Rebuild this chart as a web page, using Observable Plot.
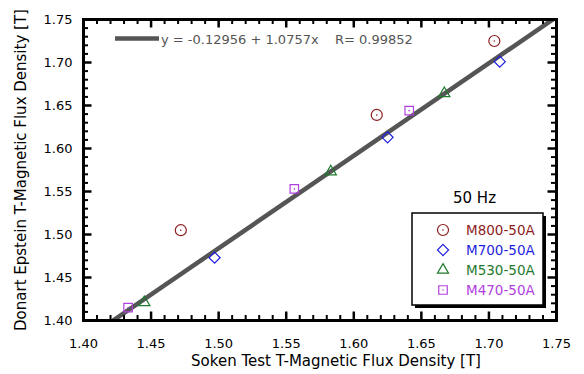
<!DOCTYPE html>
<html><head><meta charset="utf-8">
<script src="https://cdn.jsdelivr.net/npm/d3@7"></script>
<script src="https://cdn.jsdelivr.net/npm/@observablehq/plot@0.6"></script>
<style>body{margin:0;background:#fff}#chart{width:584px;height:374px}</style>
</head><body><div id="chart"></div>
<script>
// ---- data ----
const seriesNames = ["M800-50A", "M700-50A", "M530-50A", "M470-50A"];
const seriesColors = ["#8c1c1c", "#1f1fe0", "#1f7a2e", "#b040e0"];
const seriesSymbols = ["circle", "diamond2", "triangle2", "square2"];
const m800X = [1.472, 1.617, 1.704];
const m800Y = [1.505, 1.639, 1.725];
const m700X = [1.497, 1.625, 1.708];
const m700Y = [1.473, 1.613, 1.701];
const m530X = [1.445, 1.583, 1.667];
const m530Y = [1.421, 1.573, 1.664];
const m470X = [1.433, 1.556, 1.641];
const m470Y = [1.415, 1.553, 1.644];
const xTicks = [1.40, 1.45, 1.50, 1.55, 1.60, 1.65, 1.70, 1.75];
const yTicks = [1.40, 1.45, 1.50, 1.55, 1.60, 1.65, 1.70, 1.75];
const fitIntercept = -0.12956;
const fitSlope = 1.0757;
const fitR = 0.99852;
const freqLabel = "50 Hz";
const xTitle = "Soken Test T-Magnetic Flux Density [T]";
const yTitle = "Donart Epstein T-Magnetic Flux Density [T]";

// ---- build tables ----
const xs = [m800X, m700X, m530X, m470X];
const ys = [m800Y, m700Y, m530Y, m470Y];
const data = [];
seriesNames.forEach((s, i) => xs[i].forEach((x, j) => data.push({series: s, x, y: ys[i][j]})));
const fitLine = [xTicks[0], xTicks[xTicks.length - 1]].map(x => ({x, y: fitIntercept + fitSlope * x}));
const minorX = d3.range(0, 36).map(i => +(1.40 + i * 0.01).toFixed(2)).filter(v => !xTicks.includes(v));
const minorY = d3.range(0, 36).map(i => +(1.40 + i * 0.01).toFixed(2)).filter(v => !yTicks.includes(v));

const W = 584, H = 374, ML = 83, MR = 28, MT = 19, MB = 54;
const PW = W - ML - MR, PH = H - MT - MB;
const xLo = xTicks[0], xHi = xTicks[xTicks.length - 1];
const yLo = yTicks[0], yHi = yTicks[yTicks.length - 1];
const perPxX = (xHi - xLo) / PW, perPxY = (yHi - yLo) / PH;

// inward tick marks on all four sides (lengths converted from pixels through the scale span)
function ticks(vals, dim, len, sw) {
  if (dim === "x") {
    const l = len * perPxY;
    return [
      Plot.ruleX(vals, {x: d => d, y1: yLo, y2: yLo + l, stroke: "#000", strokeWidth: sw}),
      Plot.ruleX(vals, {x: d => d, y1: yHi - l, y2: yHi, stroke: "#000", strokeWidth: sw})
    ];
  }
  const l = len * perPxX;
  return [
    Plot.ruleY(vals, {y: d => d, x1: xLo, x2: xLo + l, stroke: "#000", strokeWidth: sw}),
    Plot.ruleY(vals, {y: d => d, x1: xHi - l, x2: xHi, stroke: "#000", strokeWidth: sw})
  ];
}

const sizes = {circle: 5.5, diamond2: 5, triangle2: 5.3, square2: 5.4};
const dotMarks = [];
seriesNames.forEach((s, i) => {
  const d = data.filter(r => r.series === s);
  dotMarks.push(Plot.dot(d, {x: "x", y: "y", symbol: seriesSymbols[i], r: sizes[seriesSymbols[i]],
    stroke: seriesColors[i], strokeWidth: 1.2, fill: "none"}));
  if (seriesSymbols[i] === "circle" || seriesSymbols[i] === "square2") {
    dotMarks.push(Plot.dot(d, {x: "x", y: "y", r: 0.8, fill: seriesColors[i], stroke: "none"}));
  }
});

const plot = Plot.plot({
  width: W, height: H,
  marginLeft: ML, marginRight: MR, marginTop: MT, marginBottom: MB,
  style: {fontFamily: "DejaVu Sans", fontSize: "13px"},
  x: {domain: [xLo, xHi], label: null},
  y: {domain: [yLo, yHi], label: null},
  marks: [
    Plot.line(fitLine, {x: "x", y: "y", stroke: "#555", strokeWidth: 4.5, clip: true}),
    ...dotMarks,
    Plot.frame({stroke: "black", strokeWidth: 3}),
    ...ticks(xTicks, "x", 8.5, 2.5),
    ...ticks(yTicks, "y", 8.5, 2.5),
    ...ticks(minorX, "x", 5, 2),
    ...ticks(minorY, "y", 5, 2),
    Plot.axisX({ticks: xTicks, tickSize: 0, tickPadding: 18, tickFormat: d3.format(".2f"), label: null, fontSize: 13}),
    Plot.axisY({ticks: yTicks, tickSize: 0, tickPadding: 11, tickFormat: d3.format(".2f"), label: null, fontSize: 13}),
    Plot.text([xTitle], {text: d => d, frameAnchor: "bottom", lineAnchor: "bottom", textAnchor: "middle", dy: 45, dx: 16, fontSize: 15}),
    Plot.text([yTitle], {text: d => d, frameAnchor: "left", lineAnchor: "middle", textAnchor: "middle", dx: -62, rotate: -90, fontSize: 15})
  ]
});
document.getElementById("chart").append(plot);

// ---- in-plot annotations: equation key and series legend ----
const svg = d3.select(plot);
const eq = svg.append("g").attr("font-family", "DejaVu Sans").attr("font-size", 13)
  .attr("fill", "#555").attr("text-anchor", "start");
eq.append("line").attr("x1", 115).attr("x2", 159).attr("y1", 38.5).attr("y2", 38.5)
  .attr("stroke", "#555").attr("stroke-width", 4.5);
eq.append("text").attr("x", 161).attr("y", 44).attr("text-anchor", "start")
  .text(`y = ${fitIntercept} + ${fitSlope}x`);
eq.append("text").attr("x", 335).attr("y", 44).attr("text-anchor", "start").text(`R= ${fitR}`);

const lg = svg.append("g").attr("font-family", "DejaVu Sans").attr("text-anchor", "start");
lg.append("text").attr("x", 453).attr("y", 203).attr("font-size", 15).attr("fill", "black")
  .attr("text-anchor", "start").text(freqLabel);
lg.append("rect").attr("x", 415).attr("y", 216).attr("width", 131).attr("height", 92).attr("fill", "black");
lg.append("rect").attr("x", 412).attr("y", 213).attr("width", 131).attr("height", 92)
  .attr("fill", "white").attr("stroke", "black").attr("stroke-width", 1.5);
const d3sym = {circle: d3.symbolCircle, diamond2: d3.symbolDiamond2, triangle2: d3.symbolTriangle2, square2: d3.symbolSquare2};
seriesNames.forEach((s, i) => {
  const cy = 230 + i * 20;
  const sym = seriesSymbols[i];
  const r = sizes[sym];
  lg.append("path").attr("transform", `translate(443,${cy})`)
    .attr("d", d3.symbol(d3sym[sym], Math.PI * r * r)())
    .attr("fill", "none").attr("stroke", seriesColors[i]).attr("stroke-width", 1.2);
  if (sym === "circle" || sym === "square2") {
    lg.append("circle").attr("cx", 443).attr("cy", cy).attr("r", 0.8).attr("fill", seriesColors[i]);
  }
  lg.append("text").attr("x", 466).attr("y", cy + 5).attr("font-size", 13.5)
    .attr("text-anchor", "start").attr("fill", seriesColors[i]).text(s);
});
</script>
</body></html>
